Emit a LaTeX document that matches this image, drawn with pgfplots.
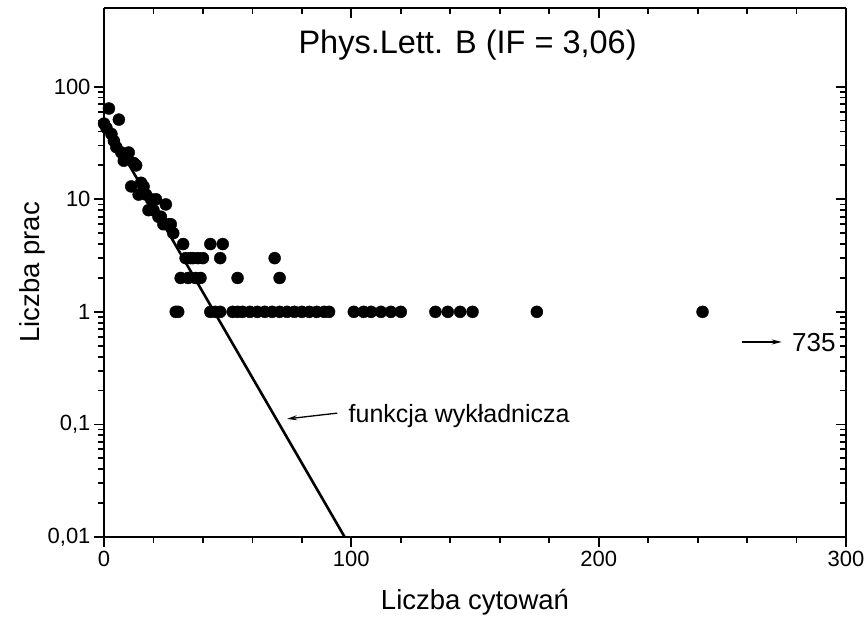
\documentclass[border=0pt]{standalone}
\usepackage{pgfplots}
\pgfplotsset{compat=1.18}
\usepackage{fontspec}
\setmainfont{Liberation Sans}
\usetikzlibrary{arrows.meta}
\begin{document}
\begin{tikzpicture}
\begin{axis}[
  at={(0,0)}, anchor=south west,
  scale only axis, width=742bp, height=529bp,
  xmin=0, xmax=300, ymin=0.01, ymax=500, ymode=log,
  axis line style={line width=2.2bp},
  major tick length=10bp, minor tick length=6bp,
  every tick/.style={black, line width=1.8bp},
  xtick={0,100,200,300}, minor x tick num=4,
  ytick={0.01,0.1,1,10,100},
  axis x line*=top, axis y line*=right,
  tick align=inside,
  xticklabels={}, yticklabels={},
]
\end{axis}
\begin{axis}[
  at={(0,0)}, anchor=south west,
  scale only axis, width=742bp, height=529bp,
  xmin=0, xmax=300, ymin=0.01, ymax=500, ymode=log,
  axis line style={line width=2.2bp},
  major tick length=10bp, minor tick length=6bp,
  every tick/.style={black, line width=1.8bp},
  xtick={0,100,200,300}, minor x tick num=4,
  ytick={0.01,0.1,1,10,100},
  axis x line*=bottom, axis y line*=left,
  tick align=outside,
  xticklabels={0,100,200,300},
  yticklabels={{0,01},{0,1},1,10,100},
  tick label style={font=\fontsize{22bp}{26bp}\selectfont},
  xticklabel style={yshift=-1bp},
  xlabel={Liczba cytowań}, ylabel={Liczba prac},
  every axis x label/.style={at={(axis description cs:0.5,-0.123)}, anchor=center, font=\fontsize{27.5bp}{32bp}\selectfont},
  every axis y label/.style={at={(axis description cs:-0.097,0.5)}, anchor=center, rotate=90, font=\fontsize{27.5bp}{32bp}\selectfont},
  clip=false,
]
\addplot[only marks, mark=*, mark size=6bp, black] coordinates {
(0,47) (1,43) (2,64) (3,38) (4,33) (5,29) (6,51) (7,26) (8,22) (9,24)
(10,26) (11,13) (12,21) (13,20) (14,11) (15,14) (16,13) (17,11) (18,8) (19,10)
(20,8) (21,10) (22,7) (23,7) (24,6) (25,9) (26,6) (27,6) (28,5)
(29,1) (30,1) (31,2) (32,4) (33,3) (34,2) (35,3) (36,3) (37,2) (38,3) (39,2) (40,3)
(43,4) (47,3) (48,4) (54,2) (69,3) (71,2)
(43,1) (45,1) (47,1) (52,1) (54,1) (56,1) (59,1) (62,1) (65,1) (68,1) (71,1)
(74,1) (77,1) (80,1) (83,1) (86,1) (89,1) (91,1)
(101,1) (105,1) (108,1) (112,1) (116,1) (120,1)
(134,1) (139,1) (144,1) (149,1) (175,1) (242,1)
};
\addplot[black, line width=2.6bp, no marks] coordinates {(0,49) (97.3,0.01)};
\node[font=\fontsize{32.5bp}{36bp}\selectfont] at (axis cs:147,236) {Phys.Lett. B (IF = 3,06)};
\draw[-{Stealth[length=10bp,width=5bp]}, line width=1.3bp] (axis cs:94.3,0.126) -- (axis cs:74,0.112);
\node[anchor=west, font=\fontsize{25bp}{28bp}\selectfont] at (axis cs:97.5,0.118) {funkcja wykładnicza};
\draw[-{Stealth[length=10bp,width=5bp]}, line width=1.3bp] (axis cs:258,0.54) -- (axis cs:274,0.54);
\node[font=\fontsize{26bp}{30bp}\selectfont] at (axis cs:287,0.53) {735};
\end{axis}
\pgfresetboundingbox
\path[use as bounding box] (-104bp,-81bp) rectangle (764bp,537bp);
\end{tikzpicture}
\end{document}
